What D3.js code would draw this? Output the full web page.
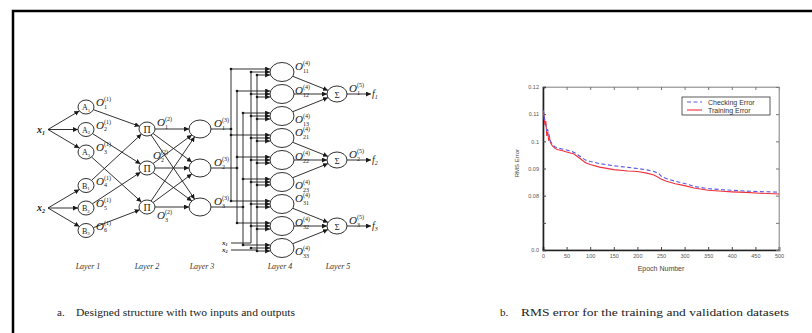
<!DOCTYPE html>
<html>
<head>
<meta charset="utf-8">
<script src="https://d3js.org/d3.v7.min.js"></script>
<style>
  html, body { margin: 0; padding: 0; background: #fff; }
  svg { display: block; }
  .serif { font-family: "Liberation Serif", "DejaVu Serif", serif; }
  .sans { font-family: "Liberation Sans", Arial, sans-serif; }
</style>
</head>
<body>
<svg id="fig" width="812" height="333"></svg>
<script>
// ---- chart data (RMS error vs epoch) ----
var epochs = [0, 2, 4, 6, 8, 10, 12, 14, 16, 20, 25, 30, 40, 50, 60, 65, 70, 80, 90, 100,
  120, 150, 180, 200, 220, 235, 245, 250, 260, 280, 300, 320, 350, 380, 400, 430, 460, 500];
var checkingError = [0.1115, 0.1105, 0.1075, 0.1060, 0.1040, 0.1042, 0.1030, 0.1015, 0.1000, 0.0988,
  0.0980, 0.0976, 0.0972, 0.0968, 0.0963, 0.0960, 0.0955, 0.0943, 0.0931, 0.0926,
  0.0918, 0.0910, 0.0904, 0.0900, 0.0895, 0.0889, 0.0882, 0.0872, 0.0864, 0.0853,
  0.0845, 0.0834, 0.0826, 0.0822, 0.0820, 0.0817, 0.0815, 0.0813];
var trainingError = [0.1105, 0.1095, 0.1060, 0.1075, 0.1020, 0.1035, 0.1005, 0.1010, 0.0995, 0.0983,
  0.0975, 0.0970, 0.0966, 0.0961, 0.0956, 0.0954, 0.0948, 0.0935, 0.0921, 0.0915,
  0.0905, 0.0896, 0.0891, 0.0889, 0.0883, 0.0876, 0.0867, 0.0861, 0.0854, 0.0844,
  0.0837, 0.0828, 0.0820, 0.0816, 0.0814, 0.0812, 0.0809, 0.0806];
var xTicks = [0, 50, 100, 150, 200, 250, 300, 350, 400, 450, 500];
var yTicks = [0.06, 0.07, 0.08, 0.09, 0.10, 0.11, 0.12];
var yTickLabels = ["0.0", "", "0.08", "0.09", "0.1", "0.11", "0.12"];
var legendNames = ["Checking Error", "Training Error"];

// ---- diagram data ----
var inputNames = ["1", "2"];
var layer1Names = [["A", "1"], ["A", "2"], ["A", "3"], ["B", "1"], ["B", "2"], ["B", "3"]];
var layer1Inputs = [0, 0, 0, 1, 1, 1];
var layer1To2 = [[0, 0], [1, 1], [2, 2], [3, 0], [4, 1], [5, 2]];
var layer2Names = ["\u03A0", "\u03A0", "\u03A0"];
var layer3Count = 3;
var layer4Outs = ["11", "12", "13", "21", "22", "23", "31", "32", "33"];
var layer5Names = ["\u03A3", "\u03A3", "\u03A3"];
var outputNames = ["1", "2", "3"];
var layerLabels = ["Layer 1", "Layer 2", "Layer 3", "Layer 4", "Layer 5"];
var captionA = "Designed structure with two inputs and outputs";
var captionB = "RMS error for the training and validation datasets";

var svg = d3.select("#fig");
var ink = "#1a1a1a";

// frame
svg.append("path").attr("d", "M13,333V11H812").attr("fill", "none")
  .attr("stroke", "#000").attr("stroke-width", 2.5);

// arrow marker
svg.append("defs").append("marker")
  .attr("id", "arr").attr("viewBox", "0 -3 6 6")
  .attr("refX", 6).attr("refY", 0)
  .attr("markerUnits", "userSpaceOnUse")
  .attr("markerWidth", 5).attr("markerHeight", 5)
  .attr("orient", "auto")
  .append("path").attr("d", "M0,-3L6,0L0,3Z").attr("fill", ink);

// layout scales for the diagram
var colX = d3.scaleLinear().domain([0, 1, 2, 3, 4, 5, 6]).range([42, 86, 147, 200, 282, 337, 372]);
var y1 = function (i) { return 107 + i * 22.5 + (i >= 3 ? 11 : 0); };
var y23 = d3.scaleLinear().domain([0, 2]).range([129, 207]);
var y4 = d3.scaleLinear().domain([0, 8]).range([72, 248]);
var y5 = function (i) { return y4(i * 3 + 1); };

var g = svg.append("g").attr("class", "serif");

function edge(cx, cy, rx, ry, px, py) {
  var dx = px - cx, dy = py - cy;
  var t = 1 / Math.sqrt((dx / rx) * (dx / rx) + (dy / ry) * (dy / ry));
  return [cx + dx * t, cy + dy * t];
}
function arrow(x1, yA, x2, yB) {
  g.append("line").attr("x1", x1).attr("y1", yA).attr("x2", x2).attr("y2", yB)
    .attr("stroke", ink).attr("stroke-width", 0.9).attr("marker-end", "url(#arr)");
}
function seg(pts) {
  g.append("path").attr("d", d3.line()(pts)).attr("fill", "none")
    .attr("stroke", ink).attr("stroke-width", 0.9);
}
function dot(x, y) {
  g.append("circle").attr("cx", x).attr("cy", y).attr("r", 1.3).attr("fill", ink);
}
function node(cx, cy, rx, ry) {
  g.append("ellipse").attr("cx", cx).attr("cy", cy).attr("rx", rx).attr("ry", ry)
    .attr("fill", "#fff").attr("stroke", ink).attr("stroke-width", 0.9);
}
function oLabel(x, y, sub, sup) {
  g.append("text").attr("x", x).attr("y", y).attr("font-size", 11).attr("font-style", "italic")
    .attr("fill", ink).text("O");
  g.append("text").attr("x", x + 8).attr("y", y - 5).attr("font-size", 6).attr("fill", ink).text("(" + sup + ")");
  g.append("text").attr("x", x + 8).attr("y", y + 2.5).attr("font-size", 6).attr("fill", ink).text(sub);
}
function xLabel(x, y, sub, size) {
  var t = g.append("text").attr("x", x).attr("y", y).attr("font-size", size)
    .attr("font-style", "italic").attr("font-weight", "bold").attr("fill", ink);
  t.append("tspan").text("x");
  t.append("tspan").attr("dy", size * 0.2).attr("font-size", size * 0.6).text(sub);
}

// inputs -> layer 1
var r1 = [8, 7], r2 = [8, 7], r3 = [11, 9], r4 = [12, 9.5], r5 = [10, 8];
var inY = [y1(1), y1(4)];
inputNames.forEach(function (s, i) { xLabel(colX(0) - 5, inY[i] + 3, s, 10); });
layer1Names.forEach(function (d, i) {
  var cx = colX(1), cy = y1(i);
  var p = edge(cx, cy, r1[0], r1[1], colX(0) + 6, inY[layer1Inputs[i]]);
  arrow(colX(0) + 6, inY[layer1Inputs[i]], p[0], p[1]);
});
// layer 1 -> layer 2
layer1To2.forEach(function (d) {
  var a = edge(colX(1), y1(d[0]), r1[0], r1[1], colX(2), y23(d[1]));
  var b = edge(colX(2), y23(d[1]), r2[0], r2[1], colX(1), y1(d[0]));
  arrow(a[0], a[1], b[0], b[1]);
});
// layer 2 -> layer 3 (full)
d3.range(3).forEach(function (i) {
  d3.range(layer3Count).forEach(function (j) {
    var a = edge(colX(2), y23(i), r2[0], r2[1], colX(3), y23(j));
    var b = edge(colX(3), y23(j), r3[0], r3[1], colX(2), y23(i));
    arrow(a[0], a[1], b[0], b[1]);
  });
});

// layer 3 -> layer 4 buses
var busX = [231, 237, 243], inBusX = [251, 257];
var inBusY = [243, 250];
d3.range(layer3Count).forEach(function (k) {
  seg([[colX(3) + r3[0], y23(k)], [busX[k], y23(k)]]);
  dot(busX[k], y23(k));
  seg([[busX[k], y4(k) - 3], [busX[k], y4(6 + k) - 3]]);
});
inputNames.forEach(function (s, i) {
  xLabel(222, inBusY[i] + 2, s, 7);
  seg([[231, inBusY[i]], [inBusX[i], inBusY[i]], [inBusX[i], y4(0) + 3 * i]]);
});
layer4Outs.forEach(function (s, r) {
  var cx = colX(4), cy = y4(r), k = r % 3;
  var ys = [cy - 3, cy, cy + 3];
  var p = edge(cx, cy, r4[0], r4[1], cx - 30, ys[0]);
  arrow(busX[k], ys[0], p[0], ys[0]);
  dot(busX[k], ys[0]);
  inBusX.forEach(function (bx, i) {
    var q = edge(cx, cy, r4[0], r4[1], cx - 30, ys[i + 1]);
    arrow(bx, ys[i + 1], q[0], ys[i + 1]);
    dot(bx, ys[i + 1]);
  });
});

// layer 4 -> layer 5
layer4Outs.forEach(function (s, r) {
  var j = Math.floor(r / 3);
  var a = edge(colX(4), y4(r), r4[0], r4[1], colX(5), y5(j));
  var b = edge(colX(5), y5(j), r5[0], r5[1], colX(4), y4(r));
  arrow(a[0], a[1], b[0], b[1]);
});
// layer 5 -> outputs
layer5Names.forEach(function (s, j) {
  arrow(colX(5) + r5[0], y5(j), colX(6) - 1, y5(j));
});

// nodes on top of lines
layer1Names.forEach(function (d, i) {
  node(colX(1), y1(i), r1[0], r1[1]);
  var t = g.append("text").attr("x", colX(1) - 4).attr("y", y1(i) + 3).attr("font-size", 8).attr("fill", ink);
  t.append("tspan").text(d[0]);
  t.append("tspan").attr("dy", 1.5).attr("font-size", 5).text(d[1]);
  oLabel(colX(1) + 10, y1(i) - 1, String(i + 1), "1");
});
layer2Names.forEach(function (s, i) {
  node(colX(2), y23(i), r2[0], r2[1]);
  g.append("text").attr("x", colX(2)).attr("y", y23(i) + 3.5).attr("text-anchor", "middle")
    .attr("font-size", 10).attr("fill", ink).text(s);
});
oLabel(colX(2) + 10, y23(0) - 3, "1", "2");
oLabel(colX(2) + 6, y23(1) - 9, "2", "2");
oLabel(colX(2) + 10, y23(2) + 12, "3", "2");
d3.range(layer3Count).forEach(function (i) {
  node(colX(3), y23(i), r3[0], r3[1]);
  oLabel(colX(3) + 14, y23(i) - 2, String(i + 1), "3");
});
layer4Outs.forEach(function (s, r) {
  node(colX(4), y4(r), r4[0], r4[1]);
  var dy = [-2, 0, 7][r % 3];
  oLabel(colX(4) + 13, y4(r) + dy, s, "4");
});
layer5Names.forEach(function (s, j) {
  node(colX(5), y5(j), r5[0], r5[1]);
  g.append("text").attr("x", colX(5)).attr("y", y5(j) + 3.5).attr("text-anchor", "middle")
    .attr("font-size", 9).attr("fill", ink).text(s);
  oLabel(colX(5) + 12, y5(j) - 2, outputNames[j], "5");
  var t = g.append("text").attr("x", colX(6)).attr("y", y5(j) + 3).attr("font-size", 10)
    .attr("font-style", "italic").attr("fill", ink);
  t.append("tspan").text("f");
  t.append("tspan").attr("dy", 2).attr("font-size", 6).text(outputNames[j]);
});
// layer labels
var labelX = [88, 147, 202, 280, 338];
layerLabels.forEach(function (s, i) {
  g.append("text").attr("x", labelX[i]).attr("y", 269).attr("text-anchor", "middle")
    .attr("font-size", 8).attr("font-style", "italic").attr("fill", "#333").text(s);
});

// captions
var cap = svg.append("g").attr("class", "serif").attr("font-size", 11).attr("fill", "#222");
cap.append("text").attr("x", 57).attr("y", 316).text("a.");
cap.append("text").attr("x", 76).attr("y", 316).attr("textLength", 219)
  .attr("lengthAdjust", "spacingAndGlyphs").text(captionA);
cap.append("text").attr("x", 500).attr("y", 316).text("b.");
cap.append("text").attr("x", 521).attr("y", 316).attr("textLength", 268)
  .attr("lengthAdjust", "spacingAndGlyphs").text(captionB);

// ---- line chart ----
var x = d3.scaleLinear().domain([0, 500]).range([543, 779]);
var y = d3.scaleLinear().domain([0.06, 0.12]).range([250, 87]);
var c = svg.append("g").attr("class", "sans");

// frame (top/right light)
c.append("rect").attr("x", x(0)).attr("y", y(0.12)).attr("width", x(500) - x(0))
  .attr("height", y(0.06) - y(0.12)).attr("fill", "none").attr("stroke", "#999").attr("stroke-width", 0.8);

var xAxis = c.append("g").attr("transform", "translate(0," + y(0.06) + ")")
  .call(d3.axisBottom(x).tickValues(xTicks).tickSize(-3).tickPadding(4).tickFormat(d3.format("d")));
var xTop = c.append("g").attr("transform", "translate(0," + y(0.12) + ")")
  .call(d3.axisTop(x).tickValues(xTicks).tickSize(-3).tickFormat(""));
var yAxis = c.append("g").attr("transform", "translate(" + x(0) + ",0)")
  .call(d3.axisLeft(y).tickValues(yTicks).tickSize(-3).tickPadding(4)
    .tickFormat(function (d, i) { return yTickLabels[i]; }));
var yRight = c.append("g").attr("transform", "translate(" + x(500) + ",0)")
  .call(d3.axisRight(y).tickValues(yTicks).tickSize(-3).tickFormat(""));
[xTop, yRight].forEach(function (a) {
  a.select(".domain").attr("stroke", "#999").attr("stroke-width", 0.8);
  a.selectAll(".tick line").attr("stroke", "#777");
});
[xAxis, yAxis].forEach(function (a) {
  a.select(".domain").attr("stroke", "#222").attr("stroke-width", 1.6);
  a.selectAll(".tick line").attr("stroke", "#444");
  a.selectAll("text").attr("font-size", 5.5).attr("fill", "#555").attr("font-family", "Liberation Sans, Arial, sans-serif");
});

var line = function (vals) {
  return d3.line().x(function (d, i) { return x(epochs[i]); }).y(function (d) { return y(d); })(vals);
};
c.append("path").attr("d", line(trainingError)).attr("fill", "none")
  .attr("stroke", "#f0303a").attr("stroke-width", 1.1);
c.append("path").attr("d", line(checkingError)).attr("fill", "none")
  .attr("stroke", "#5a5ae6").attr("stroke-width", 1.1).attr("stroke-dasharray", "4,2.5");

// axis titles
c.append("text").attr("x", x(250)).attr("y", 271).attr("text-anchor", "middle")
  .attr("font-size", 7).attr("fill", "#444").text("Epoch Number");
c.append("text").attr("transform", "translate(519," + y(0.092) + ") rotate(-90)")
  .attr("text-anchor", "middle").attr("font-size", 6).attr("fill", "#444").text("RMS Error");

// legend
var lg = c.append("g").attr("transform", "translate(682,97)");
lg.append("rect").attr("width", 88).attr("height", 18).attr("fill", "#fff")
  .attr("stroke", "#333").attr("stroke-width", 0.8);
var lgStyles = [["#5a5ae6", "4,2.5"], ["#f0303a", null]];
legendNames.forEach(function (s, i) {
  var yy = 5 + i * 8;
  lg.append("line").attr("x1", 5).attr("x2", 20).attr("y1", yy).attr("y2", yy)
    .attr("stroke", lgStyles[i][0]).attr("stroke-width", 1.1).attr("stroke-dasharray", lgStyles[i][1]);
  lg.append("text").attr("x", 26).attr("y", yy + 2.5).attr("font-size", 7).attr("fill", "#333").text(s);
});
</script>
</body>
</html>
